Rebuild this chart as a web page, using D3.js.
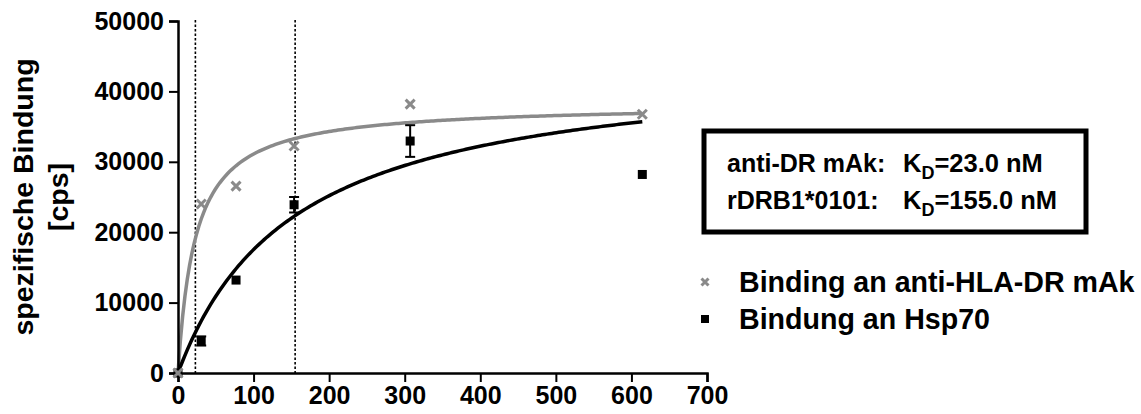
<!DOCTYPE html>
<html>
<head>
<meta charset="utf-8">
<script src="https://cdn.jsdelivr.net/npm/d3@7"></script>
<style>
  body { margin: 0; background: #fff; }
  text { font-family: "Liberation Sans", Arial, sans-serif; font-weight: bold; }
</style>
</head>
<body>
<div id="chart"></div>
<script>
// concentration [nM]
var conc = [0, 30.7, 76.8, 153.6, 307.2, 614.4];
// anti-HLA-DR mAk binding
var drValues = [0, 24000, 26550, 32250, 38200, 36750];
// Hsp70 binding + error
var hspValues = [0, 4550, 13200, 23900, 32950, 28200];
var hspErrors = [0, 650, 0, 1100, 2250, 0];
// fit parameters (one site binding)
var fitDR = {kd: 23.0, bmax: 38250};
var fitHsp = {kd: 155.0, bmax: 44700};
var xTicks = [0, 100, 200, 300, 400, 500, 600, 700];
var yTicks = [0, 10000, 20000, 30000, 40000, 50000];
var legendNames = ["Binding an anti-HLA-DR mAk", "Bindung an Hsp70"];

var W = 1141, H = 414;
var margin = {top: 21, left: 178, right: 434, bottom: 41};
var width = W - margin.left - margin.right,
    height = H - margin.top - margin.bottom;

var grey = "#8a8a8a";

var svg = d3.select("#chart").append("svg")
    .attr("width", W)
    .attr("height", H);

var g = svg.append("g")
    .attr("transform", "translate(" + margin.left + "," + margin.top + ")");

var x = d3.scaleLinear().domain([0, 700]).range([0, width]);
var y = d3.scaleLinear().domain([0, 50000]).range([height, 0]);

// dotted KD lines
g.selectAll(".kd")
  .data([fitDR.kd, fitHsp.kd])
  .enter().append("line")
  .attr("x1", function(d) { return x(d); })
  .attr("x2", function(d) { return x(d); })
  .attr("y1", -1)
  .attr("y2", height)
  .attr("stroke", "#000")
  .attr("stroke-width", 1.6)
  .attr("stroke-dasharray", "2.5,2");

// fit curves
function curve(p) {
  var pts = d3.range(0, 201).map(function(i) {
    var c = conc[conc.length - 1] * i / 200;
    return [c, p.bmax * c / (p.kd + c)];
  });
  return d3.line().x(function(d) { return x(d[0]); }).y(function(d) { return y(d[1]); })(pts);
}

g.append("path").attr("d", curve(fitDR))
  .attr("fill", "none").attr("stroke", grey).attr("stroke-width", 3.5);
g.append("path").attr("d", curve(fitHsp))
  .attr("fill", "none").attr("stroke", "#000").attr("stroke-width", 3.5);

// axes
var xAxis = d3.axisBottom(x).tickValues(xTicks).tickSize(9).tickPadding(4).tickFormat(d3.format("d"));
var yAxis = d3.axisLeft(y).tickValues(yTicks).tickSize(9).tickPadding(5).tickFormat(d3.format("d"));

var gx = g.append("g")
  .attr("transform", "translate(0," + height + ")")
  .call(xAxis);
var gy = g.append("g").call(yAxis);

[gx, gy].forEach(function(a) {
  a.select(".domain").attr("stroke-width", 2.5);
  a.selectAll(".tick line").attr("stroke-width", 2);
  a.selectAll("text").style("font-size", "25px").attr("fill", "#000");
});

// error bars
var hsp = conc.map(function(c, i) { return {x: c, y: hspValues[i], e: hspErrors[i]}; });
var eb = g.selectAll(".eb").data(hsp.filter(function(d) { return d.e > 0; }))
  .enter().append("g");
eb.append("line")
  .attr("x1", function(d) { return x(d.x); }).attr("x2", function(d) { return x(d.x); })
  .attr("y1", function(d) { return y(d.y + d.e); }).attr("y2", function(d) { return y(d.y - d.e); })
  .attr("stroke", "#000").attr("stroke-width", 2);
[1, -1].forEach(function(s) {
  eb.append("line")
    .attr("x1", function(d) { return x(d.x) - 5; }).attr("x2", function(d) { return x(d.x) + 5; })
    .attr("y1", function(d) { return y(d.y + s * d.e); }).attr("y2", function(d) { return y(d.y + s * d.e); })
    .attr("stroke", "#000").attr("stroke-width", 2);
});

// markers
var crossPath = function(s) { return "M" + (-s) + "," + (-s) + "L" + s + "," + s + "M" + (-s) + "," + s + "L" + s + "," + (-s); };

g.selectAll(".sq").data(hsp).enter().append("rect")
  .attr("x", function(d) { return x(d.x) - 4.5; })
  .attr("y", function(d) { return y(d.y) - 4.5; })
  .attr("width", 9).attr("height", 9)
  .attr("fill", "#000");

g.selectAll(".cr").data(conc.map(function(c, i) { return {x: c, y: drValues[i]}; }))
  .enter().append("path")
  .attr("transform", function(d) { return "translate(" + x(d.x) + "," + y(d.y) + ")"; })
  .attr("d", crossPath(4.5))
  .attr("stroke", grey).attr("stroke-width", 3).attr("fill", "none");

// y axis title
var yt = svg.append("text")
  .attr("transform", "translate(0," + (margin.top + height / 2) + ") rotate(-90)")
  .attr("text-anchor", "middle")
  .style("font-size", "28.5px");
yt.append("tspan").attr("x", 0).attr("y", 33).text("spezifische Bindung");
yt.append("tspan").attr("x", 0).attr("y", 68).text("[cps]");

// KD box
svg.append("rect")
  .attr("x", 704).attr("y", 131).attr("width", 382).attr("height", 101)
  .attr("fill", "none").attr("stroke", "#000").attr("stroke-width", 5);

var boxRows = [["anti-DR mAk:", fitDR.kd], ["rDRB1*0101:", fitHsp.kd]];
boxRows.forEach(function(r, i) {
  var by = 172 + i * 37;
  svg.append("text").attr("x", 727).attr("y", by).style("font-size", "25px").text(r[0]);
  var t = svg.append("text").attr("x", 903).attr("y", by).style("font-size", "25.5px");
  t.append("tspan").text("K");
  t.append("tspan").attr("dy", 7).style("font-size", "18px").text("D");
  t.append("tspan").attr("dy", -7).text("=" + r[1].toFixed(1) + " nM");
});

// legend
var lg = svg.append("g");
lg.append("path")
  .attr("transform", "translate(705,282)")
  .attr("d", crossPath(3.5))
  .attr("stroke", grey).attr("stroke-width", 3);
lg.append("rect").attr("x", 701).attr("y", 315).attr("width", 8).attr("height", 8).attr("fill", "#000");
legendNames.forEach(function(n, i) {
  lg.append("text").attr("x", 739).attr("y", 292 + i * 37).style("font-size", "28.6px").text(n);
});
</script>
</body>
</html>
